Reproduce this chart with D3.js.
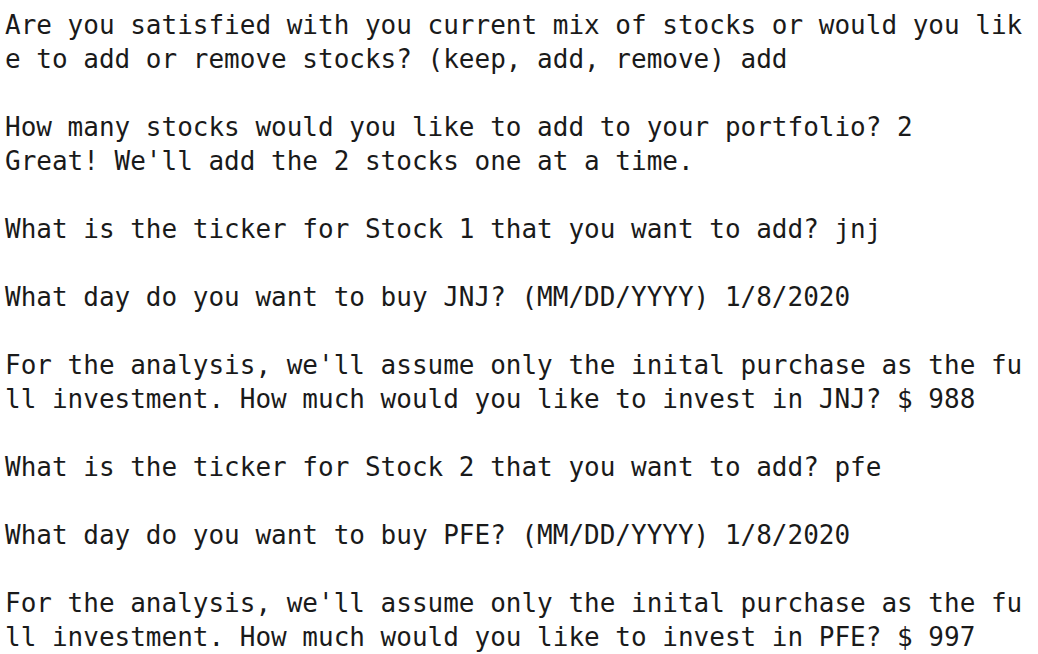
<!DOCTYPE html>
<html>
<head>
<meta charset="utf-8">
<script src="https://cdn.jsdelivr.net/npm/d3@7"></script>
<style>
  html, body { margin: 0; padding: 0; background: #fff; }
  svg text { font-family: "DejaVu Sans Mono", monospace; font-size: 26px; fill: #1a1a1a; white-space: pre; }
</style>
</head>
<body>
<svg id="console" width="1038" height="654"></svg>
<script>
// console transcript, one entry per printed row ('' = blank row)
const lines = [
  'Are you satisfied with you current mix of stocks or would you lik',
  'e to add or remove stocks? (keep, add, remove) add',
  '',
  'How many stocks would you like to add to your portfolio? 2',
  "Great! We'll add the 2 stocks one at a time.",
  '',
  'What is the ticker for Stock 1 that you want to add? jnj',
  '',
  'What day do you want to buy JNJ? (MM/DD/YYYY) 1/8/2020',
  '',
  "For the analysis, we'll assume only the inital purchase as the fu",
  'll investment. How much would you like to invest in JNJ? $ 988',
  '',
  'What is the ticker for Stock 2 that you want to add? pfe',
  '',
  'What day do you want to buy PFE? (MM/DD/YYYY) 1/8/2020',
  '',
  "For the analysis, we'll assume only the inital purchase as the fu",
  'll investment. How much would you like to invest in PFE? $ 997'
];

const svg = d3.select('#console');
const width = +svg.attr('width');

const margin = { top: 34, left: 5 };
const lineHeight = 34;
const charWidth = 15.65;

//row index -> baseline y
const yScale = d3.scaleLinear()
  .domain([0, lines.length - 1])
  .range([margin.top, margin.top + (lines.length - 1) * lineHeight]);

svg.selectAll('text').data(lines)
  .enter().append('text')
    .attr('x', margin.left)
    .attr('y', (d, i) => yScale(i))
    .attr('textLength', d => d.length ? d.length * charWidth : null)
    .attr('lengthAdjust', 'spacing')
    .text(d => d);
</script>
</body>
</html>
